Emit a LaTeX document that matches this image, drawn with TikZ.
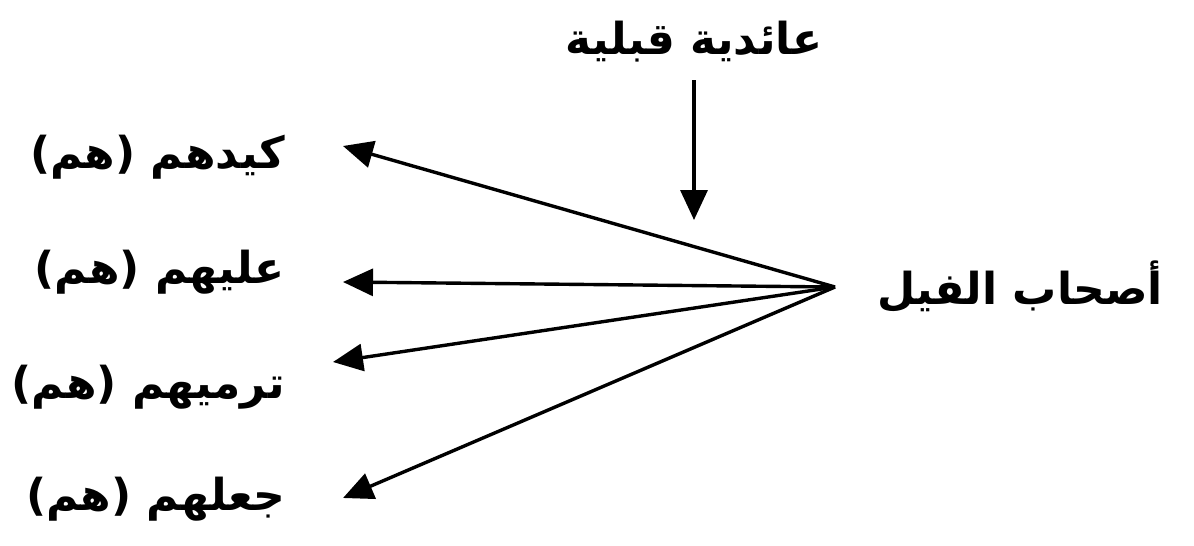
\documentclass[tikz,border=0pt]{standalone}
\usepackage{fontspec}
\usetikzlibrary{arrows.meta}
\TeXXeTstate=1
\newfontfamily\arabicfont[Script=Arabic]{DejaVu Sans}
\tikzset{
  lbl/.style={font=\arabicfont\bfseries\fontsize{44}{52}\selectfont, inner sep=0pt},
  conn/.style={line width=3.4pt, -{Triangle[length=30pt,width=27pt]}},
}
\begin{document}
\begin{tikzpicture}[x=1pt,y=-1pt]
\useasboundingbox (0,0) rectangle (1194,546);
\node[lbl] (top) at (694,42) {\beginR عائدية قبلية\endR};
\node[lbl] (ashab) at (1020,287) {\beginR أصحاب الفيل\endR};
\node[lbl, anchor=east] (k1) at (285,157) {\beginR كيدهم (هم)\endR};
\node[lbl, anchor=east] (k2) at (285,272) {\beginR عليهم (هم)\endR};
\node[lbl, anchor=east] (k3) at (285,387) {\beginR ترميهم (هم)\endR};
\node[lbl, anchor=east] (k4) at (285,499) {\beginR جعلهم (هم)\endR};
\coordinate (hub) at (835,287);
\coordinate (vt) at (694,220);
\draw[conn] (694,80) -- (vt);
\draw[conn] (hub) -- ([xshift=58pt,yshift=11pt]k1.east);
\draw[conn] (hub) -- ([xshift=58pt,yshift=-10pt]k2.east);
\draw[conn] (hub) -- ([xshift=48pt,yshift=25pt]k3.east);
\draw[conn] (hub) -- ([xshift=58pt,yshift=1pt]k4.east);
\end{tikzpicture}
\end{document}
